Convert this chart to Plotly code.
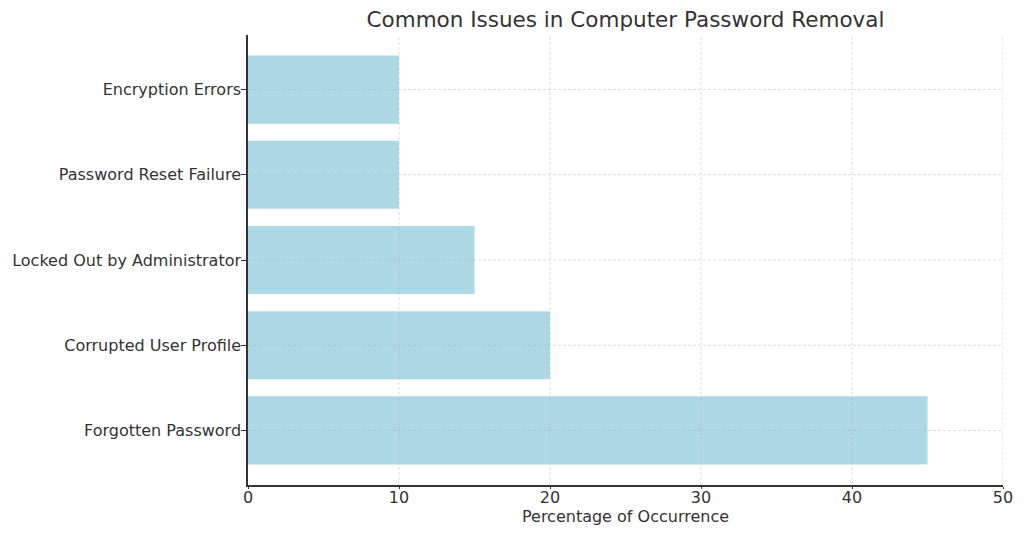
import plotly.graph_objects as go

categories = ["Forgotten Password", "Corrupted User Profile", "Locked Out by Administrator",
              "Password Reset Failure", "Encryption Errors"]
values = [45, 20, 15, 10, 10]
x_ticks = [0, 10, 20, 30, 40, 50]

fig = go.Figure(go.Bar(
    x=values, y=list(range(len(categories))), orientation="h",
    marker=dict(color="#ADD8E6", line=dict(width=0)), width=0.8,
))

font = "DejaVu Sans, sans-serif"
L, R, T, B = 240, 29, 27, 60
grid = "rgba(170,170,170,0.55)"
fig.update_layout(
    width=1024, height=537,
    margin=dict(l=L, r=R, t=T, b=B, autoexpand=False),
    plot_bgcolor="white", paper_bgcolor="white",
    font=dict(family=font, size=16, color="#333333"),
    title=dict(text="Common Issues in Computer Password Removal", x=(L + 1024 - R) / 2 / 1024,
               xanchor="center", y=1 - 11 / 537, yanchor="middle", font=dict(size=21.5, color="#333333")),
    showlegend=False,
    bargap=0.2,
)
# grid lines drawn above bars, as in the reference
for xv in x_ticks[1:]:
    fig.add_shape(type="line", xref="x", yref="paper", x0=xv, x1=xv, y0=0, y1=1,
                  line=dict(color=grid, width=0.8, dash="3px,2px"), layer="above")
for yi in range(len(categories)):
    fig.add_shape(type="line", xref="paper", yref="y", x0=0, x1=1, y0=yi, y1=yi,
                  line=dict(color=grid, width=0.8, dash="3px,2px"), layer="above")

fig.update_xaxes(
    range=[0, 50], tickvals=x_ticks, ticks="outside", ticklen=2, tickcolor="#333333",
    showline=True, linecolor="#333333", linewidth=1.5, mirror=False,
    showgrid=False, zeroline=False, automargin=False,
    ticklabelstandoff=-5,
    title=dict(text="Percentage of Occurrence", standoff=0, font=dict(size=16)),
)
fig.update_yaxes(
    range=[-0.64, 4.64], tickvals=list(range(len(categories))), ticktext=categories,
    ticks="outside", ticklen=5, tickcolor="#333333",
    showline=True, linecolor="#333333", linewidth=1.5,
    showgrid=False, zeroline=False, automargin=False,
    ticklabelstandoff=-3,
)

fig.write_html("out.html")
